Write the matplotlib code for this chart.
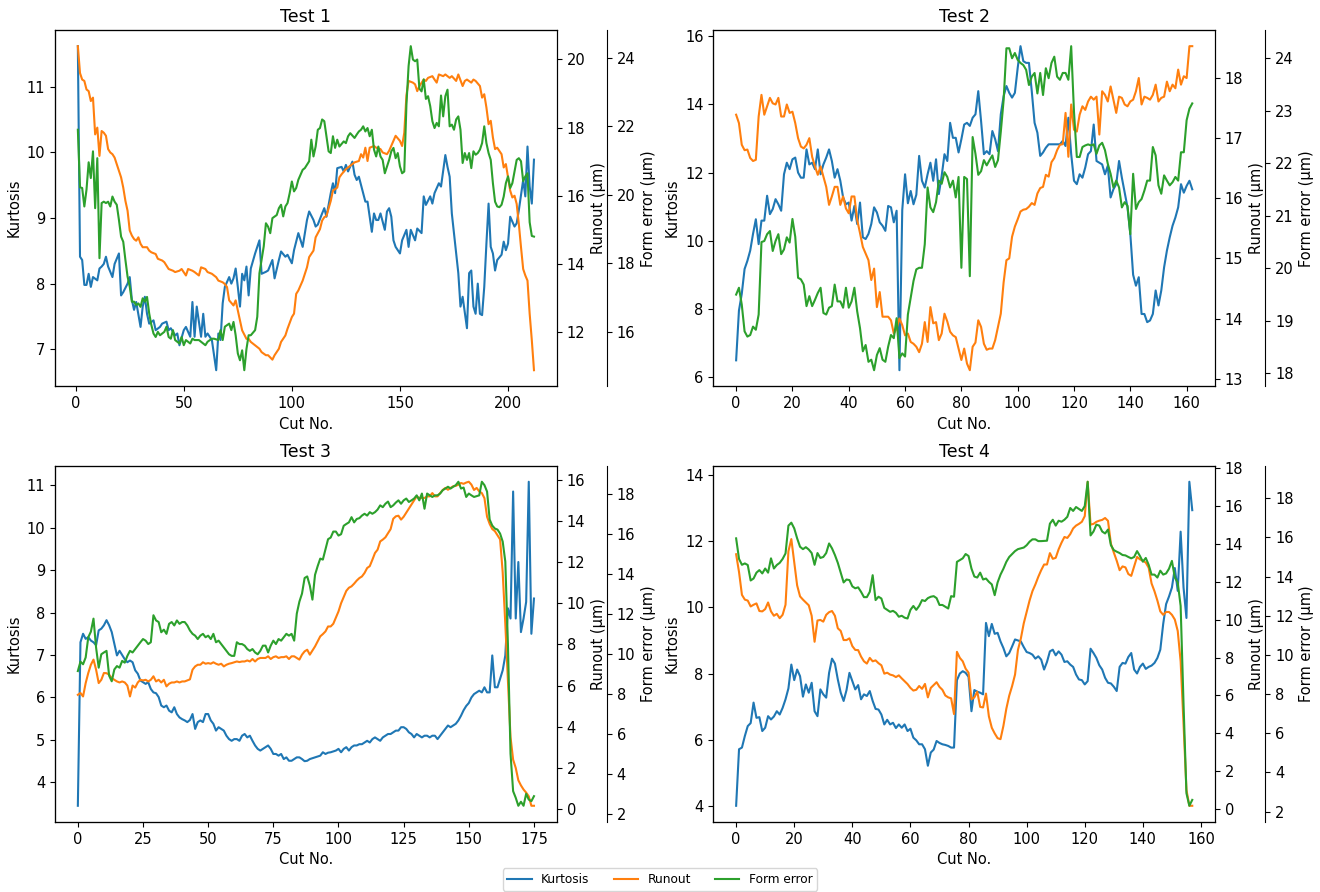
import matplotlib
matplotlib.use("Agg")
import matplotlib.pyplot as plt
from matplotlib.ticker import MultipleLocator

# ---- data (cut no., value) ----
t1_kurt = [(1,11.62),(2,8.41),(3,8.36),(4,7.98),(5,7.98),(6,8.15),(7,7.95),(8,8.1),(10,8.05),(11,8.23),(12,8.26),(13,8.3),(14,8.41),(15,8.26),(17,8.1),(18,8.3),(20,8.46),(21,7.82),(22,7.87),(24,8.0),(25,8.1),(26,7.75),(27,7.6),(28,7.72),(30,7.34),(31,7.65),(32,7.8),(33,7.54),(34,7.39),(36,7.44),(37,7.29),(39,7.34),(40,7.39),(42,7.42),(43,7.29),(44,7.32),(46,7.21),(47,7.24),(48,7.06),(50,7.29),(51,7.34),(53,7.19),(54,7.72),(55,7.19),(56,7.65),(58,7.19),(59,7.54),(60,7.19),(61,7.24),(63,7.14),(65,6.68),(66,7.24),(67,7.14),(68,7.7),(69,7.95),(71,8.1),(72,8.0),(73,8.08),(74,8.23),(75,7.95),(76,7.65),(77,8.15),(78,8.05),(79,8.26),(80,7.82),(81,8.23),(83,8.46),(85,8.66),(86,8.15),(88,8.18),(89,8.2),(91,8.36),(92,8.08),(94,8.36),(95,8.49),(97,8.41),(98,8.44),(100,8.31),(101,8.51),(103,8.77),(105,8.56),(107,8.97),(108,9.1),(110,8.97),(111,8.87),(112,8.9),(114,9.07),(115,9.15),(116,9.02),(118,9.38),(119,9.53),(120,9.38),(121,9.76),(123,9.78),(124,9.71),(125,9.81),(126,9.71),(128,9.86),(129,9.66),(130,9.58),(131,9.63),(133,9.38),(134,9.25),(135,9.25),(137,8.79),(138,9.07),(139,8.97),(140,8.97),(141,9.07),(143,8.82),(144,9.1),(145,9.15),(146,9.02),(147,8.66),(148,8.56),(150,8.46),(151,8.66),(153,8.82),(154,8.56),(155,8.82),(157,8.66),(158,8.84),(160,8.77),(161,9.33),(162,9.2),(164,9.33),(165,9.22),(166,9.38),(168,9.53),(169,9.48),(171,9.96),(172,9.78),(173,9.63),(174,9.07),(176,8.46),(177,8.16),(178,7.65),(179,7.8),(181,7.32),(182,8.16),(183,8.2),(184,7.65),(185,7.54),(186,8.0),(187,7.54),(188,7.52),(189,7.95),(190,8.61),(191,9.22),(192,8.56),(193,8.46),(194,8.2),(195,8.36),(197,8.44),(198,8.64),(199,8.51),(200,8.61),(201,9.02),(203,8.87),(204,8.92),(205,9.12),(207,9.58),(208,9.33),(209,10.09),(210,9.48),(211,9.22),(212,9.89)]
t1_runout = [(1,20.39),(2,19.6),(3,19.41),(4,19.37),(5,19.12),(6,19.07),(7,18.78),(8,18.88),(9,17.8),(10,18.0),(11,17.17),(12,17.9),(13,17.85),(14,17.76),(15,17.37),(16,17.27),(17,17.22),(18,17.12),(19,16.93),(21,16.54),(22,16.24),(23,15.85),(24,15.56),(25,14.98),(26,14.83),(27,14.73),(28,14.68),(29,14.78),(30,14.59),(31,14.49),(33,14.49),(34,14.39),(35,14.34),(37,14.29),(38,14.15),(40,14.1),(41,14.05),(43,13.85),(45,13.8),(46,13.76),(48,13.8),(49,13.85),(51,13.66),(52,13.85),(54,13.8),(55,13.76),(57,13.66),(58,13.9),(60,13.85),(61,13.76),(63,13.71),(65,13.61),(66,13.51),(68,13.46),(69,13.41),(70,13.32),(71,12.93),(73,12.78),(74,12.93),(75,12.63),(76,12.34),(77,12.05),(79,11.8),(80,11.8),(81,11.71),(83,11.61),(85,11.51),(86,11.41),(88,11.32),(89,11.32),(91,11.19),(92,11.32),(94,11.51),(95,11.71),(97,11.9),(98,12.1),(100,12.44),(101,12.54),(102,13.12),(103,13.22),(105,13.51),(107,13.9),(108,14.2),(110,14.39),(111,14.78),(113,15.02),(114,15.27),(115,15.37),(116,15.41),(118,15.85),(119,16.15),(121,16.24),(122,16.54),(123,16.63),(125,16.78),(126,16.83),(128,16.93),(129,16.98),(131,17.02),(132,17.22),(133,17.12),(134,17.41),(135,17.02),(136,17.41),(138,17.46),(139,17.41),(141,17.37),(142,17.27),(144,17.22),(145,17.32),(147,17.61),(148,17.76),(150,17.61),(151,17.46),(152,17.85),(153,18.95),(154,19.37),(156,19.32),(157,19.27),(158,19.07),(159,19.22),(161,19.41),(162,19.37),(163,19.46),(165,19.51),(166,19.41),(167,19.32),(168,19.56),(170,19.51),(171,19.56),(173,19.46),(174,19.51),(176,19.37),(177,19.56),(179,19.22),(180,19.37),(181,19.41),(183,19.32),(184,19.41),(185,19.37),(187,19.22),(188,18.88),(189,18.98),(190,18.59),(191,18.1),(192,18.2),(193,17.71),(194,17.37),(195,17.41),(197,17.22),(198,16.83),(199,16.93),(200,16.54),(201,16.15),(202,15.95),(203,16.0),(204,15.76),(205,15.17),(206,14.49),(207,13.85),(208,13.66),(209,13.51),(210,12.54),(211,11.76),(212,10.88)]
t1_form = [(1,21.9),(2,20.22),(3,20.2),(4,19.66),(5,20.15),(6,20.95),(7,20.49),(8,21.27),(9,19.61),(10,21.07),(11,18.15),(12,19.76),(13,19.8),(14,19.76),(15,19.8),(16,19.66),(17,19.95),(18,19.8),(19,19.71),(20,19.27),(21,18.78),(22,18.63),(23,18.1),(24,17.61),(25,17.32),(26,16.88),(27,16.88),(28,16.78),(29,16.83),(30,16.73),(31,16.98),(32,16.88),(33,17.02),(34,16.54),(35,16.2),(36,15.95),(37,15.85),(38,16.0),(39,15.9),(41,16.0),(42,16.15),(43,15.85),(44,15.8),(45,16.05),(46,15.76),(48,15.66),(49,15.85),(50,15.61),(51,15.76),(53,15.66),(54,15.8),(55,15.76),(57,15.76),(58,15.71),(60,15.61),(61,15.71),(63,15.8),(64,15.8),(66,15.76),(67,16.05),(68,15.76),(69,16.15),(71,16.24),(72,16.05),(73,16.29),(74,15.9),(75,15.37),(76,15.17),(77,15.46),(78,14.88),(79,15.5),(80,15.9),(81,15.9),(83,16.05),(84,16.44),(85,17.71),(86,18.1),(87,18.5),(88,19.17),(89,19.07),(90,18.88),(91,19.32),(93,19.41),(94,19.61),(95,19.71),(96,19.37),(97,19.66),(98,19.76),(99,20.05),(100,20.39),(101,20.1),(102,20.2),(103,20.44),(105,20.73),(106,20.78),(108,20.98),(109,21.61),(110,21.12),(111,21.41),(112,21.9),(113,21.95),(114,22.2),(115,22.15),(116,21.71),(117,21.27),(118,21.22),(119,21.71),(120,21.37),(121,21.61),(122,21.41),(124,21.56),(125,21.51),(126,21.71),(127,21.8),(129,21.66),(130,21.76),(131,21.85),(132,21.9),(133,22.0),(134,21.85),(135,21.95),(136,21.71),(137,21.9),(138,21.32),(139,21.12),(140,21.41),(141,21.12),(142,21.02),(143,20.63),(144,20.83),(145,21.02),(146,21.27),(147,21.37),(148,21.07),(149,21.22),(150,20.83),(151,20.63),(152,20.68),(153,22.63),(154,23.76),(155,24.34),(156,23.95),(157,23.9),(158,23.95),(159,23.1),(160,23.02),(161,23.37),(162,22.8),(163,22.88),(164,22.59),(165,22.15),(166,21.95),(167,22.1),(168,22.0),(169,22.9),(170,22.29),(171,22.88),(172,23.07),(173,22.0),(174,22.05),(175,21.9),(176,22.2),(177,22.29),(178,21.9),(179,20.93),(180,21.22),(181,21.02),(182,21.22),(183,20.78),(184,21.27),(185,21.17),(186,21.22),(187,21.32),(188,21.51),(189,22.0),(190,21.51),(191,21.22),(192,21.02),(193,20.34),(194,19.8),(195,19.66),(196,19.64),(197,19.71),(198,19.95),(199,20.34),(200,20.54),(201,20.2),(202,20.34),(203,20.68),(204,21.02),(205,21.07),(206,20.98),(207,20.4),(208,20.54),(209,20.63),(210,19.2),(211,18.8),(212,18.78)]

t2_kurt = [(0,6.49),(1,7.95),(2,8.44),(3,9.17),(4,9.41),(5,9.71),(6,10.2),(7,10.63),(8,9.9),(9,10.59),(10,10.59),(11,11.32),(12,10.78),(13,10.93),(14,11.22),(15,11.07),(16,10.88),(17,11.95),(18,12.29),(19,12.1),(20,12.39),(21,12.44),(22,12.0),(23,11.85),(24,11.85),(25,12.68),(26,12.24),(27,12.29),(28,12.1),(29,12.68),(30,11.95),(31,12.24),(32,12.44),(33,12.68),(34,12.34),(35,11.85),(36,12.1),(37,11.76),(38,11.27),(39,11.07),(40,11.12),(41,10.59),(42,11.02),(43,10.49),(44,11.12),(45,10.1),(46,10.05),(47,10.2),(48,10.49),(49,10.98),(50,10.83),(51,10.54),(52,10.44),(53,10.29),(54,11.02),(55,10.98),(56,10.54),(57,10.88),(58,6.2),(59,10.9),(60,11.95),(61,11.1),(62,11.46),(63,11.07),(64,11.35),(65,12.49),(66,11.76),(67,11.56),(68,11.95),(69,12.29),(70,11.76),(71,12.39),(72,11.37),(73,11.9),(74,12.54),(75,12.34),(76,13.46),(77,13.02),(78,13.02),(79,12.59),(80,12.98),(81,13.41),(82,13.46),(83,13.37),(84,13.61),(85,13.71),(86,14.39),(87,13.51),(88,12.54),(89,12.63),(90,12.54),(91,13.22),(92,12.98),(93,12.63),(94,13.71),(95,14.24),(96,14.54),(97,14.34),(98,14.2),(99,14.34),(100,15.07),(101,15.71),(102,15.27),(103,15.22),(104,15.22),(105,14.39),(106,13.46),(107,13.17),(108,12.49),(109,12.59),(110,12.73),(111,12.83),(112,12.83),(113,12.83),(114,12.83),(115,12.83),(116,12.93),(117,12.78),(118,13.61),(119,12.54),(120,11.76),(121,11.66),(122,11.95),(123,11.85),(124,12.15),(125,12.54),(126,12.63),(127,13.41),(128,12.34),(129,12.29),(130,12.24),(131,11.95),(132,12.2),(133,11.27),(134,11.51),(135,11.66),(136,12.34),(137,11.85),(138,11.41),(139,10.98),(140,10.2),(141,9.0),(142,8.68),(143,8.93),(144,7.85),(145,7.85),(146,7.61),(147,7.66),(148,7.85),(149,8.54),(150,8.1),(151,8.54),(152,9.22),(153,9.71),(154,10.1),(155,10.44),(156,10.68),(157,10.98),(158,11.66),(159,11.41),(160,11.61),(161,11.76),(162,11.51)]
t2_runout = [(0,17.39),(1,17.25),(2,16.89),(3,16.8),(4,16.81),(5,16.67),(6,16.62),(7,16.64),(8,17.36),(9,17.72),(10,17.39),(11,17.53),(12,17.67),(13,17.58),(14,17.56),(15,17.67),(16,17.36),(17,17.36),(18,17.56),(19,17.42),(20,17.44),(21,17.25),(22,17.0),(23,16.86),(24,16.83),(25,16.89),(26,17.0),(27,16.69),(28,16.53),(29,16.39),(30,16.53),(31,16.36),(32,16.19),(33,15.89),(34,16.03),(35,16.19),(36,16.19),(37,15.89),(38,16.03),(39,15.83),(40,15.75),(41,16.03),(42,16.03),(43,15.64),(44,15.42),(45,15.19),(46,15.08),(47,14.97),(48,14.64),(49,14.83),(50,14.19),(51,14.44),(52,14.03),(53,14.03),(54,14.03),(55,13.97),(56,13.75),(57,13.83),(58,14.0),(59,13.89),(60,13.72),(61,13.75),(62,13.61),(63,13.58),(64,13.53),(65,13.44),(66,13.58),(67,13.94),(68,13.61),(69,14.19),(70,13.92),(71,13.94),(72,13.64),(73,13.75),(74,14.08),(75,13.95),(76,13.78),(77,13.72),(78,13.69),(79,13.5),(80,13.31),(81,13.5),(82,13.25),(83,13.14),(84,13.53),(85,13.6),(86,13.97),(87,13.86),(88,13.58),(89,13.48),(90,13.5),(91,13.5),(92,13.64),(93,13.86),(94,14.08),(95,14.6),(96,14.97),(97,15.0),(98,15.36),(99,15.53),(100,15.65),(101,15.78),(102,15.81),(103,15.82),(104,15.86),(105,15.92),(106,15.89),(107,16.08),(108,16.17),(109,16.19),(110,16.39),(111,16.36),(112,16.6),(113,16.67),(114,16.8),(115,16.89),(116,16.9),(117,17.42),(118,16.69),(119,17.56),(120,17.14),(121,17.11),(122,17.39),(123,17.53),(124,17.47),(125,17.61),(126,17.69),(127,17.64),(128,17.69),(129,17.06),(130,17.78),(131,17.72),(132,17.61),(133,17.86),(134,17.64),(135,17.42),(136,17.69),(137,17.67),(138,17.56),(139,17.53),(140,17.61),(141,17.64),(142,17.78),(143,18.0),(144,17.56),(145,17.69),(146,17.67),(147,17.64),(148,17.72),(149,17.89),(150,17.61),(151,17.67),(152,17.69),(153,17.94),(154,17.78),(155,17.89),(156,17.83),(157,18.14),(158,17.89),(159,18.03),(160,18.0),(161,18.53),(162,18.53)]
t2_form = [(0,19.5),(1,19.63),(2,19.31),(3,18.8),(4,18.7),(5,18.73),(6,18.89),(7,18.83),(8,19.12),(9,20.5),(10,20.52),(11,20.65),(12,20.71),(13,20.33),(14,20.52),(15,20.65),(16,20.27),(17,20.36),(18,20.59),(19,20.49),(20,20.94),(21,20.6),(22,19.82),(23,19.79),(24,19.69),(25,19.28),(26,19.47),(27,19.28),(28,19.4),(29,19.53),(30,19.63),(31,19.15),(32,19.12),(33,19.25),(34,19.28),(35,19.69),(36,19.37),(37,19.37),(38,19.25),(39,19.63),(40,19.25),(41,19.37),(42,19.63),(43,19.18),(44,18.86),(45,18.42),(46,18.54),(47,18.22),(48,18.26),(49,18.06),(50,18.35),(51,18.48),(52,18.26),(53,18.22),(54,18.51),(55,18.73),(56,18.67),(57,19.05),(58,18.29),(59,18.38),(60,18.32),(61,19.12),(62,19.44),(63,19.76),(64,19.98),(65,20.01),(66,20.01),(67,20.46),(68,21.54),(69,21.16),(70,21.07),(71,21.26),(72,21.67),(73,21.61),(74,21.83),(75,21.74),(76,21.54),(77,21.67),(78,21.35),(79,21.74),(80,20.01),(81,21.74),(82,21.7),(83,19.85),(84,22.5),(85,22.18),(86,21.78),(87,21.85),(88,22.06),(89,21.96),(90,22.06),(91,22.15),(92,21.93),(93,22.06),(94,22.6),(95,23.2),(96,24.19),(97,24.19),(98,24.0),(99,24.1),(100,23.97),(101,23.91),(102,23.87),(103,23.78),(104,23.49),(105,23.65),(106,23.72),(107,23.33),(108,23.72),(109,23.3),(110,23.81),(111,23.62),(112,23.91),(113,24.03),(114,23.65),(115,23.59),(116,23.72),(117,23.72),(118,23.59),(119,24.23),(120,22.98),(121,22.12),(122,22.12),(123,22.31),(124,22.34),(125,22.36),(126,22.34),(127,22.36),(128,22.18),(129,22.34),(130,22.39),(131,22.25),(132,21.99),(133,21.8),(134,21.54),(135,21.67),(136,21.54),(137,21.16),(138,21.26),(139,21.19),(140,20.65),(141,21.8),(142,21.13),(143,21.26),(144,21.32),(145,21.48),(146,21.67),(147,21.67),(148,22.31),(149,22.15),(150,21.58),(151,21.42),(152,21.77),(153,21.67),(154,21.58),(155,21.64),(156,21.74),(157,21.67),(158,22.21),(159,22.21),(160,22.82),(161,23.04),(162,23.14)]

t3_kurt = [(0,3.45),(1,7.3),(2,7.5),(3,7.38),(4,7.42),(5,7.34),(6,7.3),(7,7.23),(8,7.58),(9,7.62),(10,7.7),(11,7.82),(12,7.7),(13,7.54),(14,7.27),(15,6.99),(16,7.1),(17,7.0),(18,6.9),(19,6.83),(20,6.87),(21,6.83),(22,6.64),(23,6.56),(24,6.4),(25,6.36),(26,6.32),(27,6.36),(28,6.2),(29,6.12),(30,6.1),(31,6.01),(32,5.81),(33,5.77),(34,5.81),(35,5.69),(36,5.65),(37,5.77),(38,5.61),(39,5.53),(40,5.49),(41,5.46),(42,5.42),(43,5.47),(44,5.61),(45,5.26),(46,5.42),(47,5.46),(48,5.42),(49,5.61),(50,5.61),(51,5.46),(52,5.38),(53,5.22),(54,5.3),(55,5.26),(56,5.22),(57,5.1),(58,5.02),(59,4.98),(60,5.02),(61,5.02),(62,4.98),(63,5.1),(64,5.14),(65,5.06),(66,5.1),(67,4.98),(68,4.87),(69,4.79),(70,4.75),(71,4.79),(72,4.83),(73,4.87),(74,4.79),(75,4.67),(76,4.67),(77,4.63),(78,4.67),(79,4.55),(80,4.59),(81,4.51),(82,4.51),(83,4.55),(84,4.59),(85,4.59),(86,4.55),(87,4.5),(88,4.51),(89,4.55),(90,4.57),(91,4.59),(92,4.61),(93,4.63),(94,4.71),(95,4.67),(96,4.7),(97,4.71),(98,4.73),(99,4.75),(100,4.79),(101,4.71),(102,4.79),(103,4.83),(104,4.75),(105,4.83),(106,4.87),(107,4.87),(108,4.9),(109,4.9),(110,4.94),(111,4.98),(112,4.94),(113,5.02),(114,5.06),(115,5.02),(116,4.98),(117,5.06),(118,5.1),(119,5.14),(120,5.14),(121,5.18),(122,5.22),(123,5.22),(124,5.3),(125,5.3),(126,5.26),(127,5.18),(128,5.14),(129,5.06),(130,5.14),(131,5.1),(132,5.06),(133,5.1),(134,5.1),(135,5.06),(136,5.1),(137,5.1),(138,5.02),(139,5.1),(140,5.18),(141,5.26),(142,5.34),(143,5.3),(144,5.34),(145,5.38),(146,5.46),(147,5.57),(148,5.7),(149,5.8),(150,5.87),(151,6.0),(152,6.08),(153,6.12),(154,6.16),(155,6.12),(156,6.24),(157,6.12),(158,6.12),(159,6.99),(160,6.24),(161,6.24),(162,6.44),(163,6.64),(164,6.99),(165,8.1),(166,7.86),(167,10.85),(168,7.86),(169,9.19),(170,7.54),(171,7.86),(172,8.25),(173,11.08),(174,7.5),(175,8.33)]
t3_runout = [(0,5.55),(1,5.64),(2,5.47),(3,6.12),(4,6.61),(5,7.01),(6,7.26),(7,6.77),(8,6.12),(9,6.28),(10,6.61),(11,6.6),(12,6.53),(13,6.36),(14,6.28),(15,6.2),(16,6.15),(17,6.2),(18,6.15),(19,6.0),(20,5.47),(21,6.0),(22,5.9),(23,6.15),(24,6.28),(25,6.25),(26,6.28),(27,6.2),(28,6.28),(29,6.45),(30,6.2),(31,6.28),(32,6.15),(33,6.28),(34,5.96),(35,6.09),(36,6.15),(37,6.15),(38,6.2),(39,6.15),(40,6.2),(41,6.2),(42,6.25),(43,6.3),(44,6.77),(45,6.93),(46,7.01),(47,7.01),(48,7.13),(49,7.06),(50,7.09),(51,7.06),(52,7.13),(53,7.06),(54,7.01),(55,7.06),(56,6.93),(57,7.01),(58,7.06),(59,7.09),(60,7.13),(61,7.17),(62,7.14),(63,7.17),(64,7.17),(65,7.22),(66,7.17),(67,7.29),(68,7.17),(69,7.29),(70,7.34),(71,7.34),(72,7.34),(73,7.42),(74,7.29),(75,7.38),(76,7.42),(77,7.34),(78,7.38),(79,7.38),(80,7.42),(81,7.29),(82,7.42),(83,7.42),(84,7.34),(85,7.26),(86,7.5),(87,7.66),(88,7.74),(89,7.5),(90,7.7),(91,7.9),(92,8.15),(93,8.39),(94,8.5),(95,8.63),(96,8.87),(97,8.87),(98,9.0),(99,9.3),(100,9.6),(101,10.0),(102,10.3),(103,10.6),(104,10.75),(105,10.82),(106,10.95),(107,11.1),(108,11.22),(109,11.3),(110,11.47),(111,11.71),(112,11.8),(113,12.11),(114,12.44),(115,12.6),(116,13.0),(117,13.09),(118,13.2),(119,13.4),(120,13.6),(121,14.1),(122,14.22),(123,14.25),(124,14.06),(125,14.2),(126,14.4),(127,14.6),(128,14.8),(129,15.0),(130,15.19),(131,15.11),(132,15.11),(133,15.11),(134,15.19),(135,15.19),(136,15.35),(137,15.19),(138,15.19),(139,15.35),(140,15.5),(141,15.6),(142,15.51),(143,15.6),(144,15.68),(145,15.7),(146,15.76),(147,15.84),(148,15.8),(149,15.86),(150,15.9),(151,15.76),(152,15.5),(153,15.6),(154,15.43),(155,15.35),(156,15.1),(157,14.2),(158,13.85),(159,13.6),(160,13.5),(161,13.3),(162,13.1),(163,11.5),(164,9.0),(165,6.3),(166,3.5),(167,2.4),(168,2.0),(169,1.4),(170,1.15),(171,0.95),(172,0.8),(173,0.62),(174,0.16),(175,0.16)]
t3_form = [(0,9.13),(1,9.6),(2,9.47),(3,9.81),(4,10.82),(5,11.1),(6,11.75),(7,10.3),(8,9.3),(9,9.97),(10,10.06),(11,10.14),(12,8.9),(13,8.62),(14,9.21),(15,9.38),(16,9.3),(17,9.64),(18,9.55),(19,9.89),(20,10.14),(21,10.06),(22,10.23),(23,10.4),(24,10.57),(25,10.73),(26,10.65),(27,10.48),(28,10.57),(29,11.92),(30,11.66),(31,11.58),(32,11.07),(33,11.2),(34,10.99),(35,11.49),(36,11.58),(37,11.41),(38,11.66),(39,11.49),(40,11.58),(41,11.58),(42,11.41),(43,11.16),(44,10.99),(45,10.9),(46,10.73),(47,10.9),(48,10.99),(49,10.82),(50,10.9),(51,10.73),(52,10.99),(53,10.57),(54,10.65),(55,10.48),(56,10.31),(57,10.14),(58,9.97),(59,9.89),(60,9.89),(61,10.57),(62,10.48),(63,10.48),(64,10.4),(65,10.23),(66,10.14),(67,10.23),(68,10.06),(69,9.97),(70,10.14),(71,10.4),(72,10.4),(73,10.06),(74,10.4),(75,10.65),(76,10.48),(77,10.73),(78,10.65),(79,10.82),(80,10.99),(81,10.9),(82,10.99),(83,10.65),(84,12.0),(85,12.6),(86,13.0),(87,13.78),(88,13.86),(89,13.4),(90,12.7),(91,13.94),(92,14.37),(93,14.75),(94,14.7),(95,15.21),(96,15.72),(97,15.8),(98,16.1),(99,16.1),(100,15.9),(101,15.97),(102,16.39),(103,16.48),(104,16.56),(105,16.82),(106,16.56),(107,16.73),(108,16.77),(109,16.9),(110,16.99),(111,16.9),(112,17.07),(113,16.99),(114,17.07),(115,17.2),(116,17.41),(117,17.32),(118,17.49),(119,17.6),(120,17.32),(121,17.41),(122,17.55),(123,17.66),(124,17.49),(125,17.66),(126,17.75),(127,17.58),(128,17.66),(129,17.75),(130,17.91),(131,17.66),(132,18.0),(133,17.24),(134,18.0),(135,17.91),(136,17.83),(137,17.91),(138,17.91),(139,18.0),(140,18.17),(141,18.25),(142,18.34),(143,18.25),(144,18.34),(145,18.42),(146,18.59),(147,18.25),(148,18.3),(149,17.83),(150,18.0),(151,17.91),(152,17.83),(153,17.87),(154,17.91),(155,18.59),(156,18.42),(157,18.1),(158,16.7),(159,16.4),(160,16.25),(161,16.2),(162,16.0),(163,15.6),(164,14.6),(165,10.5),(166,5.0),(167,3.13),(168,2.8),(169,2.4),(170,2.6),(171,2.4),(172,3.0),(173,2.71),(174,2.63),(175,2.88)]

t4_kurt = [(0,4.0),(1,5.71),(2,5.76),(3,6.11),(4,6.41),(5,6.5),(6,7.12),(7,6.66),(8,6.68),(9,6.26),(10,6.36),(11,6.71),(12,6.61),(13,6.7),(14,6.86),(15,6.76),(16,6.96),(17,7.22),(18,7.55),(19,8.27),(20,7.8),(21,8.12),(22,7.92),(23,7.3),(24,7.67),(25,7.42),(26,7.72),(27,6.86),(28,6.71),(29,7.52),(30,7.37),(31,7.27),(32,8.02),(33,8.45),(34,8.3),(35,7.82),(36,7.42),(37,7.17),(38,7.5),(39,8.02),(40,7.77),(41,7.52),(42,7.65),(43,7.22),(44,7.37),(45,7.32),(46,7.47),(47,7.17),(48,6.93),(49,6.91),(50,6.76),(51,6.46),(52,6.6),(53,6.46),(54,6.51),(55,6.35),(56,6.46),(57,6.36),(58,6.46),(59,6.26),(60,6.33),(61,6.06),(62,5.98),(63,5.86),(64,5.86),(65,5.71),(66,5.21),(67,5.61),(68,5.7),(69,5.96),(70,5.9),(71,5.86),(72,5.84),(73,5.81),(74,5.76),(75,5.76),(76,7.8),(77,8.0),(78,8.07),(79,8.02),(80,7.9),(81,6.86),(82,7.5),(83,7.45),(84,7.42),(85,7.37),(86,9.53),(87,9.13),(88,9.5),(89,9.2),(90,9.23),(91,8.97),(92,8.77),(93,8.52),(94,8.62),(95,8.82),(96,9.03),(97,9.0),(98,8.97),(99,8.8),(100,8.65),(101,8.62),(102,8.57),(103,8.45),(104,8.52),(105,8.42),(106,8.12),(107,8.35),(108,8.67),(109,8.72),(110,8.55),(111,8.67),(112,8.57),(113,8.35),(114,8.37),(115,8.27),(116,8.2),(117,7.97),(118,7.82),(119,7.8),(120,7.67),(121,7.77),(122,8.75),(123,8.62),(124,8.47),(125,8.25),(126,8.12),(127,7.87),(128,7.72),(129,7.7),(130,7.6),(131,7.47),(132,8.2),(133,8.32),(134,8.3),(135,8.5),(136,8.62),(137,8.12),(138,8.0),(139,8.2),(140,8.3),(141,8.14),(142,8.2),(143,8.24),(144,8.32),(145,8.47),(146,8.72),(147,9.5),(148,10.1),(149,10.33),(150,10.6),(151,11.19),(152,10.5),(153,12.29),(154,10.6),(155,9.68),(156,13.8),(157,12.94)]
t4_runout = [(0,13.44),(1,12.5),(2,11.3),(3,11.05),(4,11.0),(5,10.69),(6,10.78),(7,10.85),(8,10.45),(9,10.43),(10,10.55),(11,10.9),(12,10.43),(13,10.2),(14,10.3),(15,10.07),(16,10.25),(17,10.78),(18,13.6),(19,14.24),(20,13.0),(21,11.8),(22,11.22),(23,11.05),(24,10.9),(25,10.75),(26,10.2),(27,8.83),(28,9.95),(29,9.98),(30,9.89),(31,10.25),(32,10.39),(33,10.45),(34,10.2),(35,9.54),(36,9.4),(37,8.92),(38,8.92),(39,9.01),(40,8.6),(41,8.4),(42,8.39),(43,8.05),(44,7.8),(45,7.68),(46,7.98),(47,7.8),(48,7.85),(49,7.7),(50,7.59),(51,7.15),(52,7.2),(53,7.1),(54,7.06),(55,6.97),(56,7.06),(57,6.9),(58,6.75),(59,6.6),(60,6.4),(61,6.26),(62,6.3),(63,6.5),(64,6.35),(65,6.61),(66,5.9),(67,6.4),(68,6.55),(69,6.7),(70,6.45),(71,6.3),(72,6.0),(73,5.9),(74,5.85),(75,5.02),(76,8.3),(77,7.98),(78,7.8),(79,7.41),(80,7.2),(81,5.8),(82,5.9),(83,6.2),(84,5.4),(85,5.37),(86,6.1),(87,4.9),(88,4.3),(89,4.0),(90,3.75),(91,3.7),(92,4.4),(93,5.3),(94,5.99),(95,6.5),(96,7.1),(97,8.4),(98,9.0),(99,9.8),(100,10.4),(101,11.0),(102,11.5),(103,11.85),(104,12.25),(105,12.6),(106,12.9),(107,12.9),(108,13.5),(109,13.2),(110,13.25),(111,13.7),(112,14.05),(113,14.35),(114,14.3),(115,14.5),(116,14.8),(117,14.95),(118,15.04),(119,15.15),(120,15.45),(121,17.26),(122,15.0),(123,15.04),(124,15.15),(125,15.21),(126,15.25),(127,15.35),(128,15.2),(129,14.0),(130,13.53),(131,13.1),(132,12.6),(133,12.8),(134,12.75),(135,12.4),(136,12.3),(137,12.8),(138,13.3),(139,13.17),(140,13.1),(141,13.0),(142,12.73),(143,11.9),(144,11.49),(145,11.0),(146,10.43),(147,10.25),(148,10.4),(149,10.4),(150,10.25),(151,10.0),(152,9.4),(153,7.8),(154,4.5),(155,1.03),(156,0.19),(157,0.19)]
t4_form = [(0,15.95),(1,14.9),(2,14.6),(3,14.67),(4,14.59),(5,13.8),(6,13.9),(7,14.2),(8,14.33),(9,14.16),(10,14.41),(11,14.2),(12,14.93),(13,14.41),(14,14.59),(15,14.7),(16,14.9),(17,15.18),(18,16.6),(19,16.75),(20,16.46),(21,15.95),(22,15.52),(23,15.4),(24,15.5),(25,15.38),(26,15.2),(27,14.6),(28,15.2),(29,14.95),(30,15.0),(31,15.2),(32,15.69),(33,15.44),(34,15.1),(35,14.7),(36,14.2),(37,13.7),(38,13.85),(39,13.82),(40,13.5),(41,13.4),(42,13.45),(43,13.22),(44,12.95),(45,12.95),(46,13.22),(47,14.07),(48,12.8),(49,12.97),(50,12.88),(51,12.4),(52,12.3),(53,12.2),(54,12.25),(55,12.15),(56,11.95),(57,12.0),(58,11.9),(59,11.86),(60,12.3),(61,12.5),(62,12.3),(63,12.5),(64,12.8),(65,12.75),(66,12.9),(67,12.97),(68,13.0),(69,12.9),(70,12.55),(71,12.55),(72,12.46),(73,12.37),(74,13.0),(75,12.97),(76,14.75),(77,14.84),(78,14.93),(79,15.15),(80,15.05),(81,14.41),(82,14.0),(83,13.95),(84,14.2),(85,13.85),(86,13.9),(87,13.73),(88,13.6),(89,13.05),(90,13.7),(91,14.1),(92,14.4),(93,14.75),(94,15.0),(95,15.15),(96,15.3),(97,15.4),(98,15.44),(99,15.48),(100,15.6),(101,15.78),(102,15.9),(103,15.9),(104,15.81),(105,15.81),(106,15.82),(107,15.83),(108,16.7),(109,16.9),(110,16.6),(111,16.85),(112,16.8),(113,16.9),(114,17.05),(115,17.5),(116,17.35),(117,17.55),(118,17.45),(119,17.35),(120,17.6),(121,18.84),(122,16.1),(123,16.3),(124,16.65),(125,16.6),(126,16.3),(127,16.2),(128,16.4),(129,15.6),(130,15.35),(131,15.27),(132,15.2),(133,15.1),(134,15.08),(135,15.0),(136,14.93),(137,15.0),(138,15.3),(139,15.05),(140,14.76),(141,14.95),(142,14.6),(143,14.1),(144,14.1),(145,13.95),(146,14.3),(147,14.1),(148,14.16),(149,14.4),(150,14.8),(151,13.95),(152,13.7),(153,12.5),(154,7.5),(155,2.94),(156,2.3),(157,2.6)]

titles = ["Test 1", "Test 2", "Test 3", "Test 4"]
tests = [(t1_kurt, t1_runout, t1_form), (t2_kurt, t2_runout, t2_form),
         (t3_kurt, t3_runout, t3_form), (t4_kurt, t4_runout, t4_form)]

plt.rcParams['font.size'] = 10.5

fig, axes = plt.subplots(2, 2, figsize=(13.2, 8.92), dpi=100)
fig.subplots_adjust(left=0.0417, right=0.9205, top=0.9664, bottom=0.0785,
                    wspace=0.312, hspace=0.222)


def draw(ax, title, kurt, runout, form):
    ax2 = ax.twinx()
    ax3 = ax.twinx()
    ax3.spines['right'].set_position(('axes', 1.1))

    x, y = zip(*kurt)
    l1, = ax.plot(x, y, color='C0', label='Kurtosis')
    x, y = zip(*runout)
    l2, = ax2.plot(x, y, color='C1', label='Runout')
    x, y = zip(*form)
    l3, = ax3.plot(x, y, color='C2', label='Form error')

    ax.set_title(title, fontsize=12.5)
    ax.set_xlabel("Cut No.")
    ax.set_ylabel("Kurtosis")
    ax2.set_ylabel("Runout (µm)")
    ax3.set_ylabel("Form error (µm)")
    return [l1, l2, l3], ax2, ax3


for i, (ax, title, (k, r, f)) in enumerate(zip(axes.flat, titles, tests)):
    handles, ax2, ax3 = draw(ax, title, k, r, f)
    if i == 3:
        # reference shows integer steps of 2 on both right axes here
        ax2.yaxis.set_major_locator(MultipleLocator(2))
        ax3.yaxis.set_major_locator(MultipleLocator(2))

fig.legend(handles, [h.get_label() for h in handles], loc='lower center',
           ncol=3, fontsize=8.7, bbox_to_anchor=(0.5, 0.0), borderaxespad=0.1)

fig.savefig("out.png", dpi=100)
